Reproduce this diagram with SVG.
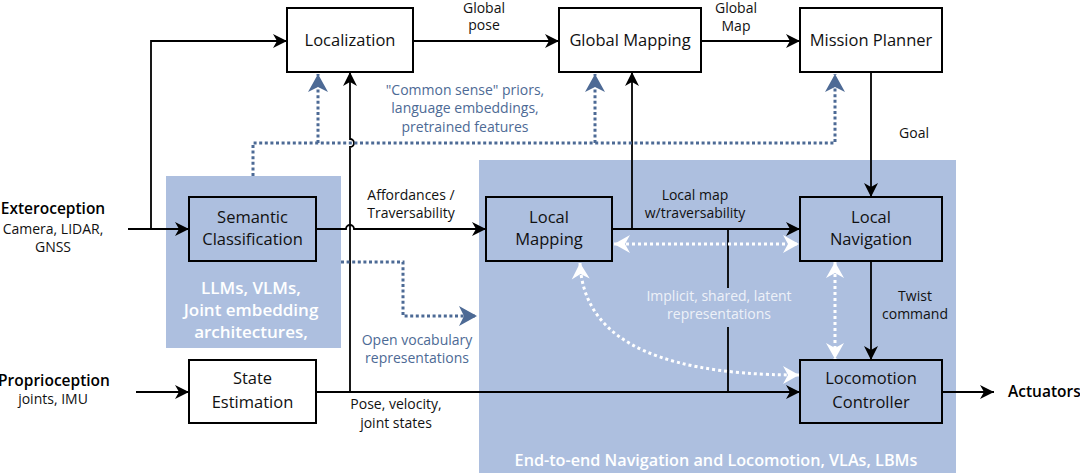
<svg xmlns="http://www.w3.org/2000/svg" width="1080" height="473" viewBox="0 0 1080 473">
<defs>
<style>
.box{stroke:#000;stroke-width:2;}
.w{fill:#fff;}
.t{fill:none;}
.bt{font-family:"Open Sans","Noto Sans",sans-serif;font-size:16.5px;fill:#111;text-anchor:middle;}
.lb{font-family:"Open Sans","Noto Sans",sans-serif;font-size:14px;fill:#111;text-anchor:middle;}
.bl{font-family:"Open Sans","Noto Sans",sans-serif;font-size:14px;fill:#4d6a95;text-anchor:middle;}
.hd{font-family:"Open Sans","Noto Sans",sans-serif;font-size:15.5px;font-weight:600;fill:#000;text-anchor:middle;}
.wt{font-family:"Open Sans","Noto Sans",sans-serif;font-weight:600;fill:#fff;text-anchor:middle;}
.lt{font-family:"Open Sans","Noto Sans",sans-serif;font-size:14px;fill:#edf1f8;text-anchor:middle;}
.c{fill:none;stroke:#000;stroke-width:1.8;}
.bd{fill:none;stroke:#4d6a95;stroke-width:3;stroke-dasharray:3 2.6;}
.wd{fill:none;stroke:#fff;stroke-width:3;stroke-dasharray:3 3;}
.panel{fill:#adbfdf;}
</style>
<marker id="ak" markerUnits="userSpaceOnUse" markerWidth="14" markerHeight="14" refX="14" refY="7" orient="auto" overflow="visible">
<path d="M0,0 L14,7 L0,14 L4,7 z" fill="#000"/>
</marker>
<marker id="ab" markerUnits="userSpaceOnUse" markerWidth="18" markerHeight="20" refX="18" refY="10" orient="auto" overflow="visible">
<path d="M0,0 L18,10 L0,20 L5,10 z" fill="#4d6a95"/>
</marker>
<marker id="aw" markerUnits="userSpaceOnUse" markerWidth="16" markerHeight="18" refX="16" refY="9" orient="auto-start-reverse" overflow="visible">
<path d="M0,0 L16,9 L0,18 L5,9 z" fill="#fff"/>
</marker>
</defs>

<g id="panels">
<rect id="semantic-panel" class="panel" x="166" y="176" width="175" height="172"/>
<rect id="e2e-panel" class="panel" x="479" y="160" width="477" height="313"/>
</g>

<g id="connectors">
<path class="c" d="M128,229 H189" marker-end="url(#ak)"/>
<path class="c" d="M151,229 V41 H287" marker-end="url(#ak)"/>
<path class="c" d="M136,392 H189" marker-end="url(#ak)"/>
<path class="c" d="M413,41 H559" marker-end="url(#ak)"/>
<path class="c" d="M701,41 H800" marker-end="url(#ak)"/>
<path class="c" d="M871,72 V197" marker-end="url(#ak)"/>
<path class="c" d="M871,261 V360" marker-end="url(#ak)"/>
<path class="c" d="M942,392 H994" marker-end="url(#ak)"/>
<path class="c" d="M612,229 H800" marker-end="url(#ak)"/>
<path class="c" d="M632,229 V72" marker-end="url(#ak)"/>
<path class="c" d="M316,229 H346 A4,4 0 0 1 354,229 H486" marker-end="url(#ak)"/>
<path class="c" d="M316,392 H800" marker-end="url(#ak)"/>
<path class="c" d="M350,392 V147 A4,4 0 0 0 350,139 V72" marker-end="url(#ak)"/>
<path class="c" d="M728,229 V288 M728,327 V392"/>
<path class="bd" d="M253,176 V143 H835 V74" marker-end="url(#ab)"/>
<path class="bd" d="M318,143 V74" marker-end="url(#ab)"/>
<path class="bd" d="M595,143 V74" marker-end="url(#ab)"/>
<path class="bd" d="M341,262 H403 V316 H477" marker-end="url(#ab)"/>
<path class="wd" d="M614,244 H799" marker-start="url(#aw)" marker-end="url(#aw)"/>
<path class="wd" d="M835,262 V359" marker-start="url(#aw)" marker-end="url(#aw)"/>
<path class="wd" d="M580,263 C583,330 640,375 799,375" marker-start="url(#aw)" marker-end="url(#aw)"/>
</g>

<g id="localization">
<rect class="box w" x="287" y="8" width="126" height="64"/>
<text class="bt" x="350" y="46">Localization</text>
</g>
<g id="global-mapping">
<rect class="box w" x="559" y="8" width="142" height="64"/>
<text class="bt" x="630" y="46">Global Mapping</text>
</g>
<g id="mission-planner">
<rect class="box w" x="800" y="8" width="142" height="64"/>
<text class="bt" x="871" y="46">Mission Planner</text>
</g>
<g id="semantic-classification">
<rect class="box t" x="189" y="197" width="127" height="64"/>
<text class="bt" x="252.5" y="223">Semantic</text>
<text class="bt" x="252.5" y="245">Classification</text>
</g>
<g id="local-mapping">
<rect class="box t" x="486" y="197" width="126" height="64"/>
<text class="bt" x="549" y="223">Local</text>
<text class="bt" x="549" y="245">Mapping</text>
</g>
<g id="local-navigation">
<rect class="box t" x="800" y="197" width="142" height="64"/>
<text class="bt" x="871" y="223">Local</text>
<text class="bt" x="871" y="245">Navigation</text>
</g>
<g id="state-estimation">
<rect class="box w" x="189" y="360" width="127" height="63"/>
<text class="bt" x="252.5" y="384">State</text>
<text class="bt" x="252.5" y="408">Estimation</text>
</g>
<g id="locomotion-controller">
<rect class="box t" x="800" y="360" width="142" height="63"/>
<text class="bt" x="871" y="384">Locomotion</text>
<text class="bt" x="871" y="408">Controller</text>
</g>

<g id="labels">
<text class="lb" x="484" y="13">Global</text>
<text class="lb" x="484" y="30">pose</text>
<text class="lb" x="736" y="13">Global</text>
<text class="lb" x="736" y="31">Map</text>
<text class="bl" x="465" y="95">"Common sense" priors,</text>
<text class="bl" x="465" y="113">language embeddings,</text>
<text class="bl" x="465" y="132">pretrained features</text>
<text class="lb" x="914" y="138">Goal</text>
<text class="lb" x="411" y="200">Affordances /</text>
<text class="lb" x="411" y="218">Traversability</text>
<text class="lb" x="695" y="200">Local map</text>
<text class="lb" x="695" y="218">w/traversability</text>
<text class="lb" x="915" y="301">Twist</text>
<text class="lb" x="915" y="319">command</text>
<text class="lt" x="719" y="301">Implicit, shared, latent</text>
<text class="lt" x="719" y="319">representations</text>
<text class="bl" x="417" y="345">Open vocabulary</text>
<text class="bl" x="417" y="363">representations</text>
<text class="lb" x="396" y="409">Pose, velocity,</text>
<text class="lb" x="396" y="428">joint states</text>
<text class="hd" x="53" y="214">Exteroception</text>
<text class="lb" x="53" y="234">Camera, LIDAR,</text>
<text class="lb" x="53" y="252">GNSS</text>
<text class="hd" x="54" y="386">Proprioception</text>
<text class="lb" x="53" y="404">joints, IMU</text>
<text class="hd" x="1008" y="397" style="text-anchor:start">Actuators</text>
<text class="wt" x="251" y="294" font-size="17">LLMs,  VLMs,</text>
<text class="wt" x="251" y="316" font-size="17">Joint embedding</text>
<text class="wt" x="251" y="338" font-size="17">architectures,</text>
<text class="wt" x="716" y="466" font-size="16.2">End-to-end Navigation and Locomotion, VLAs, LBMs</text>
</g>
</svg>
